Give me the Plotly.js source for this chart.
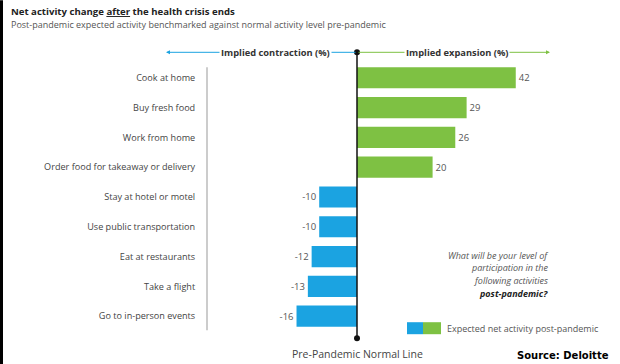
<!DOCTYPE html>
<html>
<head>
<meta charset="utf-8">
<script src="https://cdn.plot.ly/plotly-3.0.1.min.js"></script>
<style>html,body{margin:0;padding:0;background:#fff;}#chart{width:620px;height:364px;}</style>
</head>
<body>
<div id="chart"></div>
<script>
const categories = ['Cook at home', 'Buy fresh food', 'Work from home', 'Order food for takeaway or delivery', 'Stay at hotel or motel', 'Use public transportation', 'Eat at restaurants', 'Take a flight', 'Go to in-person events'];
const values = [42, 29, 26, 20, -10, -10, -12, -13, -16];
const questionLines = ['What will be your level of', 'participation in the', 'following activities', '<b style="color:#222">post-pandemic?</b>'];
const BLUE = '#1BA3E1', GREEN = '#7EC143';

const FW = 620, FH = 364;
const M = {l: 207, r: 10, t: 44.7, b: 21.2};
const PW = FW - M.l - M.r, PH = FH - M.t - M.b;
const px = x => (x - M.l) / PW;
const py = y => 1 - (y - M.t) / PH;
const idx = categories.map((c, i) => i);
const FONT = 'Open Sans';

const bars = {
  type: 'bar', orientation: 'h',
  x: values, y: idx, width: 0.71,
  marker: {color: values.map(v => v < 0 ? BLUE : GREEN)},
  text: values.map(String), textposition: 'outside', cliponaxis: false,
  textfont: {family: FONT, size: 9.5, color: '#555'},
  hoverinfo: 'skip', showlegend: false
};
const zeroLine = {
  type: 'scatter', mode: 'lines+markers',
  x: [0, 0], y: [-0.86, 8.74],
  line: {color: '#111', width: 1.5},
  marker: {color: '#111', size: 6},
  cliponaxis: false, hoverinfo: 'skip', showlegend: false
};

const ann = [
  {text: 'Net activity change <u>after</u> the health crisis ends', x: px(9), y: py(11), xanchor: 'left', yanchor: 'middle',
   font: {family: FONT, size: 9.6, color: '#222', weight: 'bold'}},
  {text: 'Post-pandemic expected activity benchmarked against normal activity level pre-pandemic', x: px(9), y: py(24), xanchor: 'left', yanchor: 'middle',
   font: {family: FONT, size: 9, color: '#555'}},
  {text: '', x: px(166), y: py(52), ax: 357 - 166, ay: 0, showarrow: true, arrowhead: 2, arrowsize: 0.8, arrowwidth: 1, arrowcolor: BLUE},
  {text: '', x: px(550), y: py(52), ax: 357 - 550, ay: 0, showarrow: true, arrowhead: 2, arrowsize: 0.8, arrowwidth: 1, arrowcolor: GREEN},
  {text: '<b>Implied contraction (%)</b>', x: px(275), y: py(52), xanchor: 'center', yanchor: 'middle', bgcolor: '#fff',
   font: {family: FONT, size: 9.3, color: '#333'}},
  {text: '<b>Implied expansion (%)</b>', x: px(457), y: py(52), xanchor: 'center', yanchor: 'middle', bgcolor: '#fff',
   font: {family: FONT, size: 9.3, color: '#333'}},
  {text: 'Expected net activity post-pandemic', x: px(445), y: py(328), xanchor: 'left', yanchor: 'middle',
   font: {family: FONT, size: 9, color: '#555'}},
  {text: 'Pre-Pandemic Normal Line', x: px(357), y: py(354), xanchor: 'center', yanchor: 'middle',
   font: {family: FONT, size: 10.5, color: '#444'}},
  {text: '<b>Source: Deloitte</b>', x: px(611), y: py(355), xanchor: 'right', yanchor: 'middle',
   font: {family: 'DejaVu Sans', size: 10, color: '#000'}}
].concat(questionLines.map((t, i) => ({
  text: t, x: px(549), y: py(255 + i * 12.7), xanchor: 'right', yanchor: 'middle', borderpad: 0,
  font: {family: FONT, size: 9, color: '#555', style: 'italic'}
}))).map(a => Object.assign({xref: 'paper', yref: 'paper', showarrow: false}, a));

const shapes = [
  {type: 'rect', xref: 'paper', yref: 'paper', x0: px(0), x1: px(3), y0: py(0), y1: py(364), fillcolor: '#000', line: {width: 0}},
  {type: 'line', xref: 'paper', yref: 'paper', x0: 0, x1: 0, y0: py(67), y1: py(330), line: {color: '#aaa', width: 1.2}},
  {type: 'rect', xref: 'paper', yref: 'paper', x0: px(407), x1: px(423), y0: py(322), y1: py(334), fillcolor: BLUE, line: {width: 0}},
  {type: 'rect', xref: 'paper', yref: 'paper', x0: px(423), x1: px(441), y0: py(322), y1: py(334), fillcolor: GREEN, line: {width: 0}}
];

const layout = {
  width: FW, height: FH, margin: M,
  paper_bgcolor: '#fff', plot_bgcolor: '#fff',
  font: {family: FONT},
  xaxis: {range: [-(357 - 207) / 3.78, (610 - 357) / 3.78], showgrid: false, zeroline: false, showticklabels: false, showline: false, ticks: ''},
  yaxis: {range: [8.9, -1.1], tickvals: idx, ticktext: categories, showgrid: false, zeroline: false, showline: false,
          ticks: 'outside', ticklen: 9, tickcolor: 'rgba(0,0,0,0)',
          tickfont: {family: FONT, size: 9.1, color: '#444'}},
  annotations: ann, shapes: shapes, showlegend: false
};

Plotly.newPlot('chart', [bars, zeroLine], layout, {displayModeBar: false, staticPlot: true});
</script>
</body>
</html>
